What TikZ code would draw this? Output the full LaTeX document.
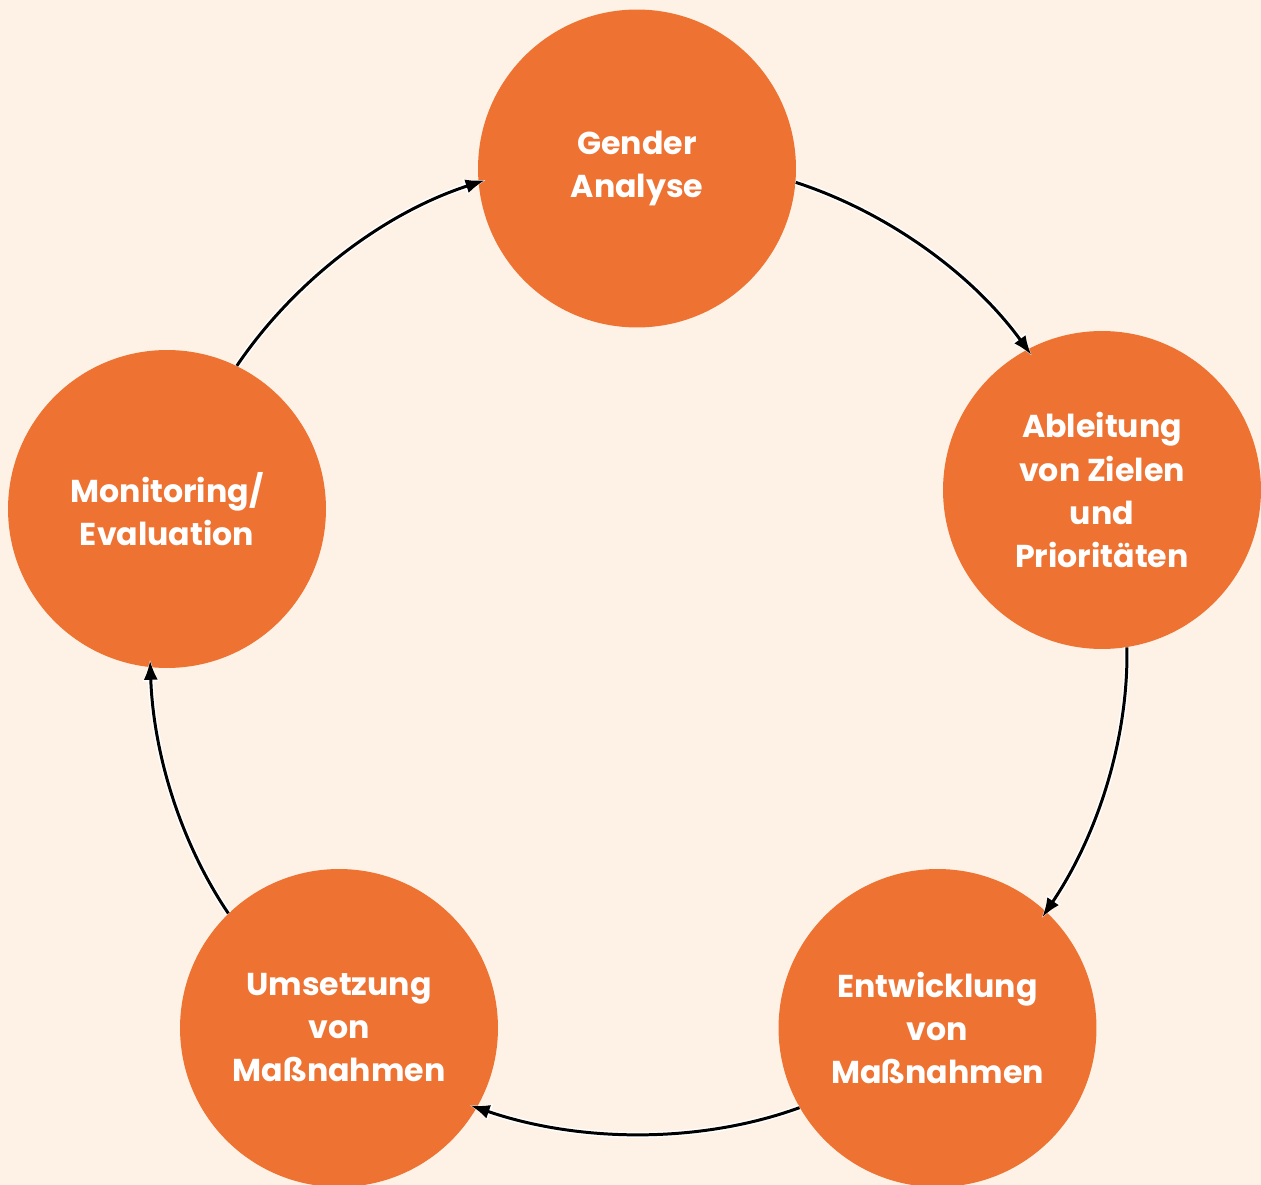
\documentclass[tikz,border=0pt]{standalone}
\usepackage{fontspec}
\setmainfont{Poppins}
\usetikzlibrary{arrows.meta}
\definecolor{bgcream}{HTML}{FEF2E6}
\definecolor{stageorange}{HTML}{EE7333}
\begin{document}
\begin{tikzpicture}[x=0.02cm,y=-0.02cm]
	\useasboundingbox (0,0) rectangle (1261,1185);
	\fill[bgcream] (0,0) rectangle (1261,1185);

	\tikzstyle{stage}=[circle, fill=stageorange, minimum size=6.36cm, inner sep=0pt, text=white, align=center, font=\fontsize{18}{24.5}\selectfont\bfseries]
	\tikzstyle{cycle}=[-{Latex[length=11pt,width=8pt]}, line width=1.7pt, looseness=0.85, shorten >=-4pt, preaction={draw=white, line width=3.4pt, -{Latex[length=13pt,width=10pt]}, shorten >=-5pt}]

	\node[stage] (G) at (637,168.5) {Gender\\Analyse};
	\node[stage] (A) at (1102,490) {Ableitung\\von Zielen\\und\\Prioritäten};
	\node[stage] (E) at (937.5,1028) {Entwicklung\\von\\Maßnahmen};
	\node[stage] (U) at (339,1028) {Umsetzung\\von\\Maßnahmen};
	\node[stage] (M) at (167,509) {Monitoring/\\Evaluation};

	\draw[cycle] (G.-5) to[out=-18, in=126] (A.118);
	\draw[cycle] (A.-81) to[out=-89, in=56] (E.47);
	\draw[cycle] (E.-150) to[out=-160, in=-19] (U.-30);
	\draw[cycle] (U.134) to[out=124, in=-88] (M.-96);
	\draw[cycle] (M.64) to[out=56, in=198] (G.185);
\end{tikzpicture}
\end{document}
